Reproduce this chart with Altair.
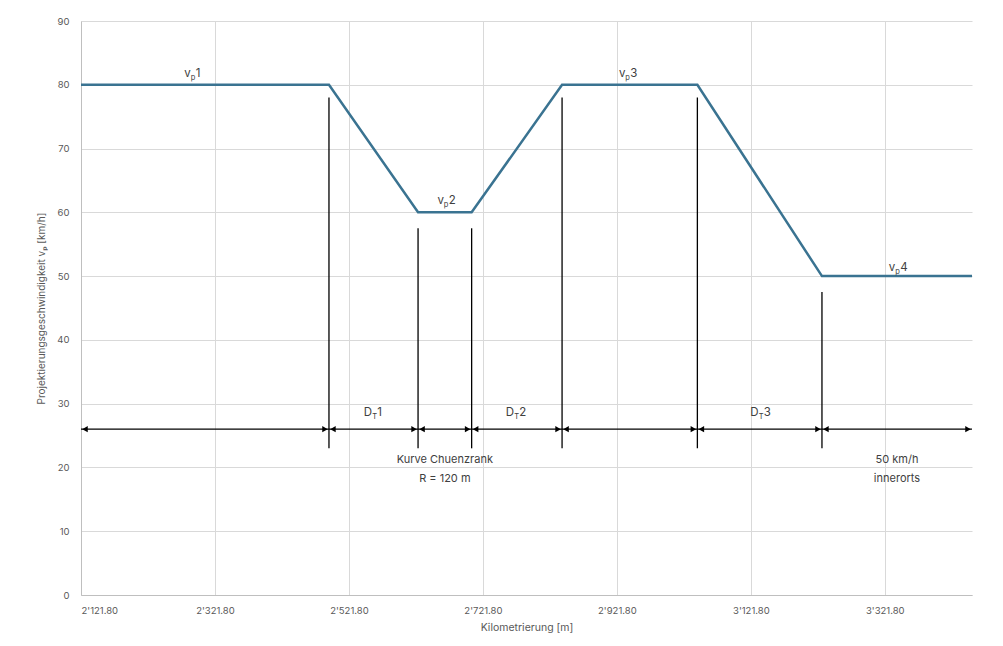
import altair as alt
import pandas as pd

# Speed profile
km = [2121.8, 2492, 2625, 2705, 2840, 3042, 3228, 3452]
speed = [80, 80, 60, 60, 80, 80, 50, 50]

# Vertical marker lines
vx = [2492, 2625, 2705, 2840, 3042, 3228]
vtop = [78, 57.5, 57.5, 78, 78, 47.5]
vbottom = [23, 23, 23, 23, 23, 23]

# Dimension arrows
a_start = [2121.8, 2492, 2625, 2705, 2840, 3042, 3228]
a_end = [2492, 2625, 2705, 2840, 3042, 3228, 3452]
a_y = 26

# Subscript labels
sub_main = ["v", "v", "v", "v", "D", "D", "D"]
sub_sub = ["p", "p", "p", "p", "T", "T", "T"]
sub_num = ["1", "2", "3", "4", "1", "2", "3"]
sub_x = [2287, 2665, 2936, 3339, 2558, 2770, 3135]
sub_y = [81.8, 61.9, 81.8, 51.4, 28.7, 28.7, 28.7]

# Plain text annotations
note_text = ["Kurve Chuenzrank", "R = 120 m", "50 km/h", "innerorts"]
note_x = [2665, 2665, 3340, 3340]
note_y = [21.2, 18.2, 21.2, 18.2]

x_ticks = [2121.8, 2321.8, 2521.8, 2721.8, 2921.8, 3121.8, 3321.8]
x_domain = [2121.8, 3452]

FONT = "Inter"

line_df = pd.DataFrame({"km": km, "v": speed})
vert_df = pd.DataFrame({"km": vx, "top": vtop, "bottom": vbottom})
arr_df = pd.DataFrame({"s": a_start, "e": a_end, "y": [a_y] * len(a_start)})
sub_df = pd.DataFrame({"main": sub_main, "sub": sub_sub, "num": sub_num, "x": sub_x, "y": sub_y})
note_df = pd.DataFrame({"t": note_text, "x": note_x, "y": note_y})

xscale = alt.Scale(domain=x_domain, nice=False, zero=False)
yscale = alt.Scale(domain=[0, 90], nice=False)

xaxis = alt.Axis(
    values=x_ticks,
    title="Kilometrierung [m]",
    labelExpr="replace(format(datum.value, ',.2f'), ',', \"'\")",
    labelColor="#595959", labelFontSize=9.5, labelFont=FONT,
    titleColor="#595959", titleFontSize=10.5, titleFont=FONT, titleFontWeight="normal",
    gridColor="#d9d9d9", domainColor="#bfbfbf", ticks=False, labelPadding=10, titlePadding=8,
)
yaxis = alt.Axis(
    values=list(range(0, 91, 10)),
    title="Projektierungsgeschwindigkeit vₚ [km/h]",
    labelColor="#595959", labelFontSize=9.5, labelFont=FONT,
    titleColor="#595959", titleFontSize=10, titleFont=FONT, titleFontWeight="normal",
    gridColor="#d9d9d9", domainColor="#bfbfbf", ticks=False, labelPadding=12, titlePadding=10,
)

base_line = alt.Chart(line_df).mark_line(color="#3A7391", strokeWidth=2.5).encode(
    x=alt.X("km:Q", scale=xscale, axis=xaxis),
    y=alt.Y("v:Q", scale=yscale, axis=yaxis),
)

verts = alt.Chart(vert_df).mark_rule(color="#000000", strokeWidth=1.3).encode(
    x=alt.X("km:Q", scale=xscale),
    y=alt.Y("bottom:Q", scale=yscale),
    y2="top:Q",
)

arrows = alt.Chart(arr_df).mark_rule(color="#000000", strokeWidth=1.3).encode(
    x=alt.X("s:Q", scale=xscale),
    x2="e:Q",
    y=alt.Y("y:Q", scale=yscale),
)
head_r = alt.Chart(arr_df).mark_point(shape="triangle-right", filled=True, color="#000000",
                                       size=40, opacity=1, xOffset=-4).encode(
    x=alt.X("e:Q", scale=xscale), y=alt.Y("y:Q", scale=yscale))
head_l = alt.Chart(arr_df).mark_point(shape="triangle-left", filled=True, color="#000000",
                                       size=40, opacity=1, xOffset=4).encode(
    x=alt.X("s:Q", scale=xscale), y=alt.Y("y:Q", scale=yscale))

tcolor = "#404040"
t_main = alt.Chart(sub_df).mark_text(align="right", baseline="alphabetic", fontSize=11.5,
                                     font=FONT, color=tcolor, dx=-1, dy=4).encode(
    x=alt.X("x:Q", scale=xscale), y=alt.Y("y:Q", scale=yscale), text="main:N")
t_sub = alt.Chart(sub_df).mark_text(align="left", baseline="alphabetic", fontSize=7.5,
                                    font=FONT, color=tcolor, dx=-1, dy=7).encode(
    x=alt.X("x:Q", scale=xscale), y=alt.Y("y:Q", scale=yscale), text="sub:N")
t_num = alt.Chart(sub_df).mark_text(align="left", baseline="alphabetic", fontSize=11.5,
                                    font=FONT, color=tcolor, dx=4, dy=4).encode(
    x=alt.X("x:Q", scale=xscale), y=alt.Y("y:Q", scale=yscale), text="num:N")

notes = alt.Chart(note_df).mark_text(align="center", baseline="middle", fontSize=11,
                                     font=FONT, color=tcolor).encode(
    x=alt.X("x:Q", scale=xscale), y=alt.Y("y:Q", scale=yscale), text="t:N")

chart = alt.layer(base_line, verts, arrows, head_r, head_l, t_main, t_sub, t_num, notes).properties(
    width=891, height=574,
    autosize=alt.AutoSizeParams(type="none"),
    padding={"left": 73, "top": 13, "right": 23, "bottom": 43},
    background="white",
).configure_view(stroke=None)

chart.save("out.html", embed_options={"renderer": "svg", "actions": False})
